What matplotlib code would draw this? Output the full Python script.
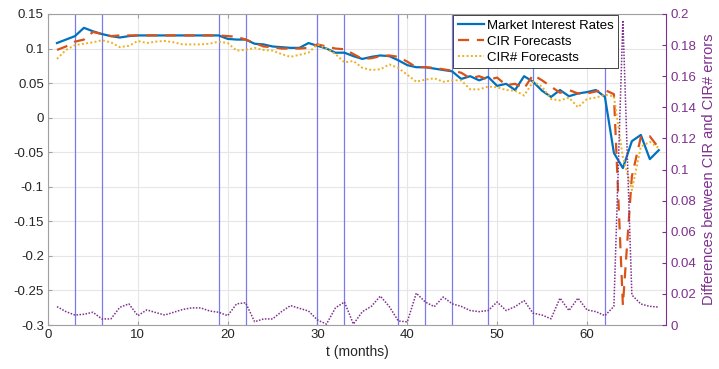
import numpy as np
import matplotlib
matplotlib.use("Agg")
from matplotlib import pyplot as plt

plt.rcParams['font.family'] = ['Liberation Sans', 'DejaVu Sans']

months = np.arange(1, 69)

market = [0.108, 0.113, 0.118, 0.130, 0.125, 0.121, 0.118, 0.116, 0.118, 0.119,
          0.119, 0.119, 0.119, 0.119, 0.119, 0.119, 0.119, 0.119, 0.119, 0.114,
          0.113, 0.113, 0.107, 0.106, 0.103, 0.102, 0.101, 0.101, 0.108, 0.104,
          0.100, 0.094, 0.094, 0.089, 0.085, 0.088, 0.090, 0.089, 0.083, 0.076,
          0.073, 0.073, 0.071, 0.069, 0.067, 0.056, 0.060, 0.054, 0.059, 0.046,
          0.049, 0.040, 0.060, 0.052, 0.039, 0.030, 0.040, 0.031, 0.035, 0.037,
          0.040, 0.030, -0.051, -0.073, -0.034, -0.025, -0.060, -0.047]

cir = [0.098, 0.103, 0.110, 0.113, 0.124, 0.121, 0.118, 0.119, 0.119, 0.119,
       0.119, 0.119, 0.119, 0.119, 0.119, 0.119, 0.119, 0.119, 0.119, 0.118,
       0.117, 0.113, 0.108, 0.103, 0.102, 0.100, 0.100, 0.100, 0.101, 0.106,
       0.103, 0.100, 0.099, 0.092, 0.085, 0.086, 0.089, 0.090, 0.088, 0.081,
       0.073, 0.073, 0.072, 0.070, 0.068, 0.065, 0.057, 0.060, 0.055, 0.058,
       0.047, 0.049, 0.042, 0.062, 0.054, 0.045, 0.036, 0.040, 0.035, 0.035,
       0.038, 0.040, 0.034, -0.271, -0.085, -0.028, -0.027, -0.044]

cir_sharp = [0.085, 0.098, 0.105, 0.107, 0.109, 0.112, 0.109, 0.102, 0.104, 0.111,
             0.108, 0.110, 0.111, 0.109, 0.106, 0.106, 0.106, 0.107, 0.110, 0.108,
             0.097, 0.098, 0.101, 0.098, 0.097, 0.092, 0.088, 0.091, 0.094, 0.106,
             0.100, 0.092, 0.080, 0.082, 0.072, 0.069, 0.070, 0.077, 0.072, 0.062,
             0.052, 0.055, 0.057, 0.052, 0.054, 0.054, 0.041, 0.041, 0.045, 0.044,
             0.040, 0.039, 0.032, 0.052, 0.045, 0.027, 0.025, 0.029, 0.015, 0.027,
             0.029, 0.033, 0.031, -0.057, -0.105, -0.042, -0.035, -0.044]

err_diff = [0.0118, 0.0086, 0.0064, 0.0069, 0.0082, 0.0039, 0.0039, 0.0114, 0.0136, 0.0060,
            0.0097, 0.0080, 0.0064, 0.0082, 0.0100, 0.0110, 0.0110, 0.0090, 0.0082, 0.0060,
            0.0136, 0.0143, 0.0021, 0.0039, 0.0039, 0.0086, 0.0125, 0.0107, 0.0090, 0.0032,
            0.0006, 0.0110, 0.0148, 0.0006, 0.0086, 0.0120, 0.0186, 0.0118, 0.0026, 0.0020,
            0.0205, 0.0148, 0.0118, 0.0180, 0.0136, 0.0120, 0.0093, 0.0086, 0.0093, 0.0148,
            0.0093, 0.0118, 0.0157, 0.0076, 0.0064, 0.0040, 0.0173, 0.0093, 0.0173, 0.0097,
            0.0086, 0.0060, 0.0120, 0.1960, 0.0193, 0.0135, 0.0120, 0.0115]

breaks = [3, 6, 19, 22, 30, 33, 39, 42, 45, 49, 54, 62]

left_ticks = [0.15, 0.1, 0.05, 0, -0.05, -0.1, -0.15, -0.2, -0.25, -0.3]
right_ticks = [0, 0.02, 0.04, 0.06, 0.08, 0.1, 0.12, 0.14, 0.16, 0.18, 0.2]

c_blue = '#0072BD'
c_red = '#D95319'
c_yel = '#EDB120'
c_pur = '#7E2F8E'
c_axis = '#262626'

fig = plt.figure(figsize=(7.19, 3.69), dpi=100)
ax = fig.add_axes([48 / 719, 1 - 325 / 369, 618 / 719, 311 / 369])

for b in breaks:
    ax.axvline(b, color='#7a7af0', lw=0.9, zorder=1)

ax.plot(months, market, color=c_blue, lw=1.6, label='Market Interest Rates', zorder=3)
ax.plot(months, cir, color=c_red, lw=1.6, ls=(0, (5, 3.5)), label='CIR Forecasts', zorder=3)
ax.plot(months, cir_sharp, color=c_yel, lw=1.4, ls=(0, (1, 1.2)), label='CIR# Forecasts', zorder=3)

ax.set_xlim(0, 68.8)
ax.set_ylim(-0.3, 0.15)
ax.set_yticks(left_ticks)
ax.set_yticklabels([('%g' % t) for t in left_ticks])
ax.set_xticks([0, 10, 20, 30, 40, 50, 60])
ax.grid(True, color='#e6e6e6', lw=0.8, zorder=0)
ax.set_axisbelow(True)
ax.tick_params(direction='in', length=3, color='#a0a0a0', labelcolor=c_axis,
               labelsize=9.5, top=True, pad=3)
ax.tick_params(axis='y', right=False)
for s in ['left', 'bottom', 'top']:
    ax.spines[s].set_color('#a0a0a0')
ax.spines['right'].set_visible(False)
ax.set_xlabel('t (months)', fontsize=10, color=c_axis, labelpad=3)

ax2 = ax.twinx()
ax2.plot(months, err_diff, color=c_pur, lw=1.1, ls=(0, (1, 1)), zorder=2)
ax2.set_ylim(0, 0.2)
ax2.set_yticks(right_ticks)
ax2.set_yticklabels([('%g' % t) for t in right_ticks])
ax2.tick_params(direction='in', length=3, colors=c_pur, labelsize=9.5, pad=3)
ax2.spines['right'].set_color(c_pur)
for s in ['left', 'bottom', 'top']:
    ax2.spines[s].set_visible(False)
ax2.set_ylabel('Differences between CIR and CIR# errors', color=c_pur, fontsize=10.5, labelpad=4)

leg = ax.legend(loc='upper left', bbox_to_anchor=(453 / 719, 1 - 15 / 369),
                bbox_transform=fig.transFigure, fontsize=9.5, frameon=True,
                fancybox=False, borderpad=0.35, handlelength=2.0, labelspacing=0.28,
                borderaxespad=0, handletextpad=0.2)
leg.get_frame().set_edgecolor('#262626')
leg.get_frame().set_linewidth(0.6)
leg.get_frame().set_alpha(1)

fig.savefig('out.png', dpi=100)
